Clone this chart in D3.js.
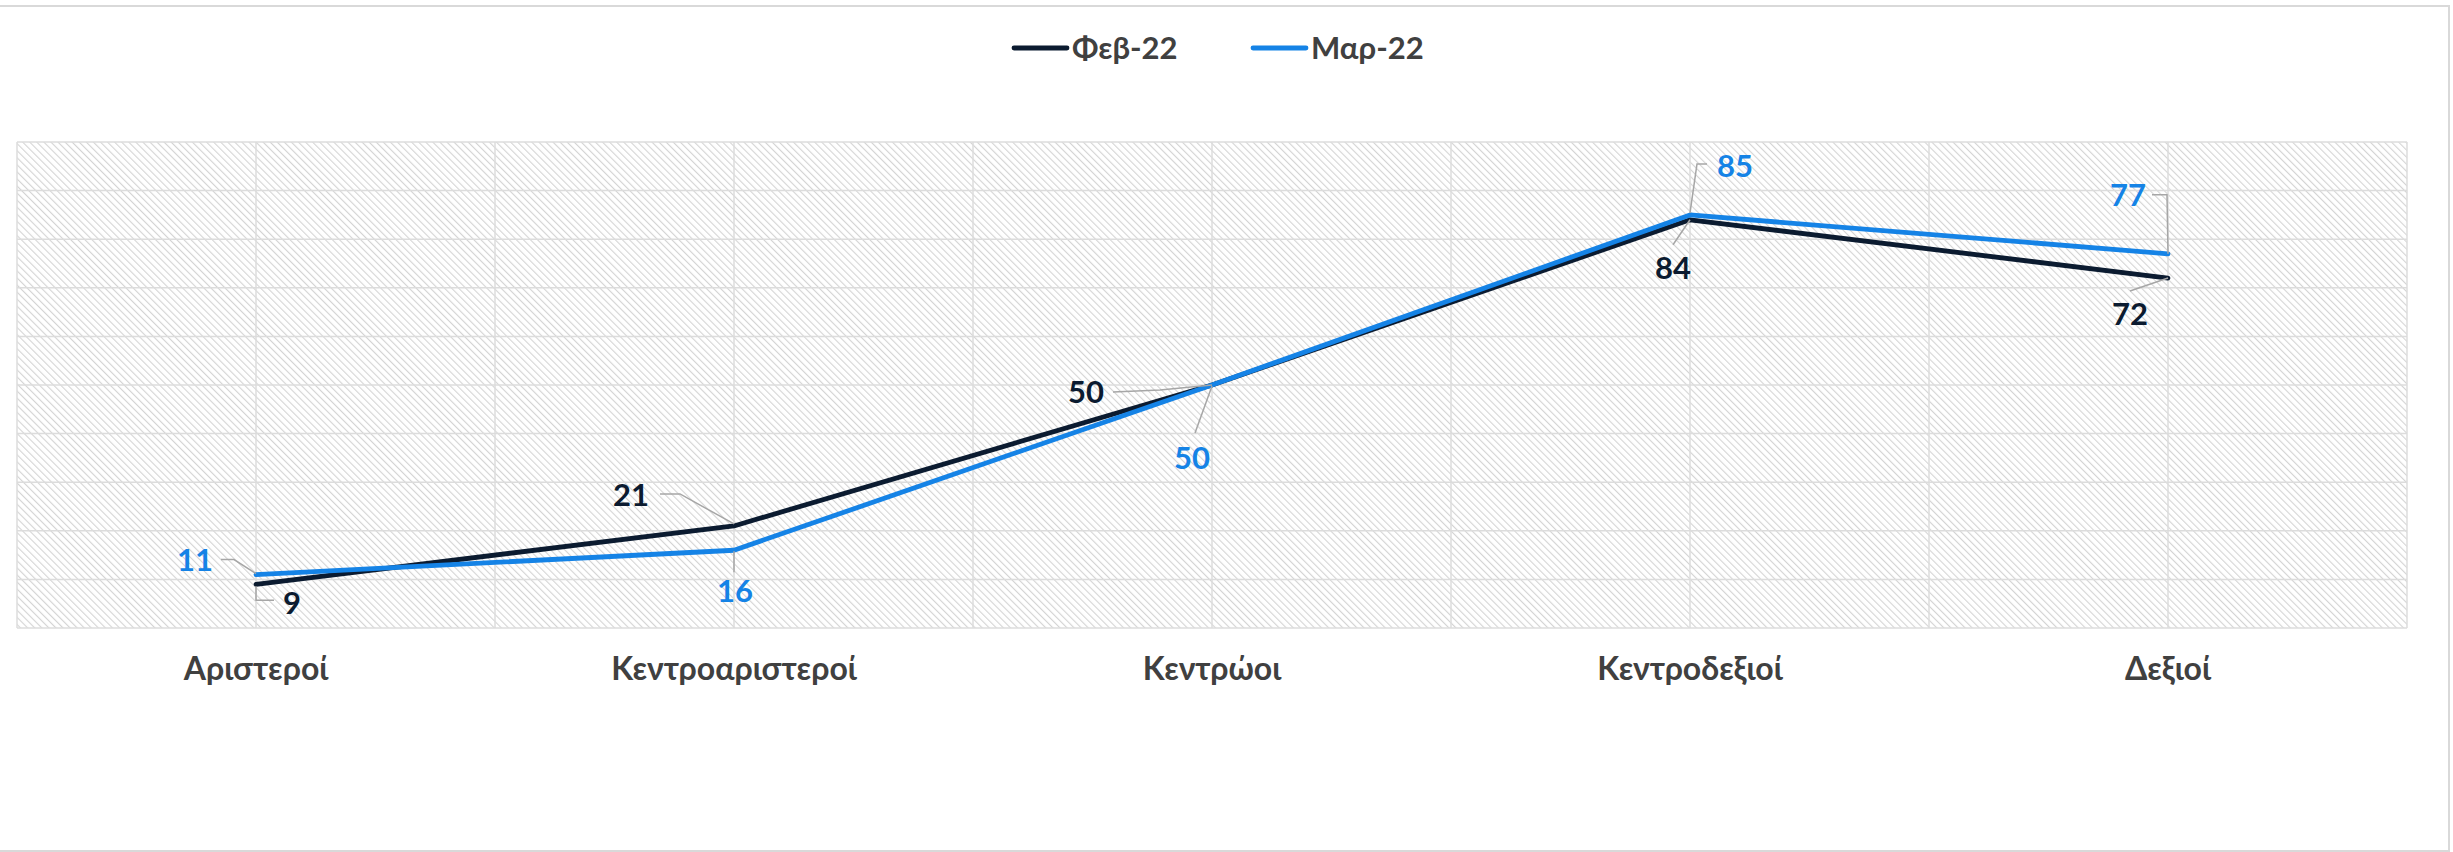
<!DOCTYPE html>
<html>
<head>
<meta charset="utf-8">
<script src="https://cdn.jsdelivr.net/npm/d3@7"></script>
<style>
  html, body { margin: 0; padding: 0; background: #ffffff; }
  svg { display: block; }
  text { font-family: Lato, "Open Sans", sans-serif; font-weight: 700; }
</style>
</head>
<body>
<div id="chart"></div>
<script>
// ---- data ----
const categories = ["Αριστεροί", "Κεντροαριστεροί", "Κεντρώοι", "Κεντροδεξιοί", "Δεξιοί"];
const seriesNames = ["Φεβ-22", "Μαρ-22"];
const febValues = [9, 21, 50, 84, 72];
const marValues = [11, 16, 50, 85, 77];
const yTicks = [0, 10, 20, 30, 40, 50, 60, 70, 80, 90, 100];

// ---- layout / style ----
const W = 2453, H = 852;
const plot = { left: 17, right: 2407, top: 142, bottom: 628 };
const colors = { feb: "#0b1b30", mar: "#1583e6" };
const gridColor = "#dcdcdc";
const leaderColor = "#a6a6a6";

// label placement relative to each point: [dx, dy] for label centre, leader polyline points
const febLabelLayout = [
  { d: [36, 19], leader: [[0, 2], [0, 16], [18, 16]] },
  { d: [-103, -31], leader: [[-74, -32], [-54, -32], [0, -2]] },
  { d: [-126, 7], leader: [[-99, 7], [-52, 5], [0, 0]] },
  { d: [-17, 48], leader: [[0, 0], [-17, 25]] },
  { d: [-38, 36], leader: [[0, 0], [-38, 13]] }
];
const marLabelLayout = [
  { d: [-61, -14], leader: [[-35, -15], [-22, -15], [0, -1]] },
  { d: [1, 41], leader: [[0, 1], [0, 22]] },
  { d: [-20, 73], leader: [[0, 1], [-17, 48]] },
  { d: [45, -49], leader: [[17, -51], [7, -51], [0, -2]] },
  { d: [-40, -59], leader: [[-16, -59], [-1, -59], [0, 0]] }
];

const svg = d3.select("#chart").append("svg").attr("width", W).attr("height", H);

// hatch pattern
const defs = svg.append("defs");
const pat = defs.append("pattern")
  .attr("id", "hatch").attr("patternUnits", "userSpaceOnUse")
  .attr("width", 5).attr("height", 5)
  .attr("patternTransform", "rotate(-45)");
pat.append("rect").attr("width", 5).attr("height", 5).attr("fill", "#ffffff");
pat.append("line").attr("x1", 0).attr("y1", 0).attr("x2", 0).attr("y2", 5)
  .attr("stroke", "#d4d4d4").attr("stroke-width", 2.2);

// outer frame
svg.append("rect").attr("x", -3).attr("y", 6).attr("width", W - 1).attr("height", H - 7)
  .attr("fill", "none").attr("stroke", "#d9d9d9").attr("stroke-width", 2);

// scales
const x = d3.scaleBand().domain(categories).range([plot.left, plot.right]).padding(0);
const y = d3.scaleLinear().domain([0, 100]).range([plot.bottom, plot.top]);
const cx = c => x(c) + x.bandwidth() / 2;

// plot background
svg.append("rect").attr("x", plot.left).attr("y", plot.top)
  .attr("width", plot.right - plot.left).attr("height", plot.bottom - plot.top)
  .attr("fill", "url(#hatch)");

// horizontal gridlines
svg.append("g").selectAll("line").data(yTicks).join("line")
  .attr("x1", plot.left).attr("x2", plot.right)
  .attr("y1", d => y(d)).attr("y2", d => y(d))
  .attr("stroke", gridColor).attr("stroke-width", 1.5);

// vertical gridlines at band edges and centres
const vLines = [];
categories.forEach(c => { vLines.push(x(c)); vLines.push(cx(c)); });
vLines.push(plot.right);
svg.append("g").selectAll("line").data(vLines).join("line")
  .attr("x1", d => d).attr("x2", d => d)
  .attr("y1", plot.top).attr("y2", plot.bottom)
  .attr("stroke", gridColor).attr("stroke-width", 1.5);

// x-axis labels
const xAxis = d3.axisBottom(x).tickSize(0).tickPadding(0);
const gx = svg.append("g").attr("transform", `translate(0,${plot.bottom})`).call(xAxis);
gx.select(".domain").remove();
gx.selectAll("text")
  .attr("y", 41).attr("dy", "0.35em")
  .attr("fill", "#404040")
  .style("font-size", "32px")
  .style("font-family", "Lato, sans-serif").style("font-weight", "700");

// lines
const line = d3.line().x((d, i) => cx(categories[i])).y(d => y(d));
const series = [
  { name: seriesNames[0], values: febValues, color: colors.feb, layout: febLabelLayout },
  { name: seriesNames[1], values: marValues, color: colors.mar, layout: marLabelLayout }
];
series.forEach(s => {
  svg.append("path").datum(s.values).attr("d", line)
    .attr("fill", "none").attr("stroke", s.color).attr("stroke-width", 4.8)
    .attr("stroke-linejoin", "round").attr("stroke-linecap", "round");
});

// labels + leaders (drawn after lines)
series.forEach(s => {
  s.values.forEach((v, i) => {
    const px = cx(categories[i]), py = y(v);
    const L = s.layout[i];
    svg.append("polyline")
      .attr("points", L.leader.map(p => `${px + p[0]},${py + p[1]}`).join(" "))
      .attr("fill", "none").attr("stroke", leaderColor).attr("stroke-width", 1.5);
    svg.append("text")
      .attr("x", px + L.d[0]).attr("y", py + L.d[1]).attr("dy", "0.35em")
      .attr("text-anchor", "middle")
      .attr("fill", s.color).style("font-size", "31px")
      .text(v);
  });
});

// legend
const legend = svg.append("g");
const legendX = [1014, 1253];
series.forEach((s, i) => {
  const g = legend.append("g").attr("transform", `translate(${legendX[i]},48)`);
  g.append("line").attr("x1", 0).attr("x2", 53).attr("y1", 0).attr("y2", 0)
    .attr("stroke", s.color).attr("stroke-width", 4.8).attr("stroke-linecap", "round");
  g.append("text").attr("x", 58).attr("y", 0).attr("dy", "0.35em")
    .attr("fill", "#404040").style("font-size", "31px").text(s.name);
});
</script>
</body>
</html>
